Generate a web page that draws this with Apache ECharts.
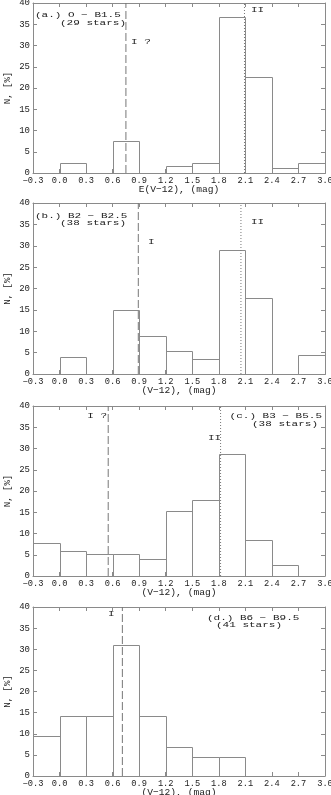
<!DOCTYPE html>
<html><head><meta charset="utf-8">
<script src="https://cdn.jsdelivr.net/npm/echarts@6/dist/echarts.min.js"></script>
<style>html,body{margin:0;padding:0;background:#fff}#c{width:331px;height:795px}</style>
</head><body><div id="c"></div>
<script>
// bin edges (V-12) in mag
var binEdges = [-0.3, 0.0, 0.3, 0.6, 0.9, 1.2, 1.5, 1.8, 2.1, 2.4, 2.7, 3.0];
var xTicks = [-0.3, 0.0, 0.3, 0.6, 0.9, 1.2, 1.5, 1.8, 2.1, 2.4, 2.7, 3.0];
var yTicks = [0, 5, 10, 15, 20, 25, 30, 35, 40];
// N [%] per bin
var valuesA = [0, 2.3, 0, 7.5, 0, 1.7, 2.3, 36.8, 22.5, 1.2, 2.3];
var valuesB = [0, 4.0, 0, 15.0, 8.8, 5.4, 3.5, 29.0, 17.7, 0, 4.4];
var valuesC = [7.7, 6.0, 5.1, 5.1, 4.0, 15.2, 17.8, 28.6, 8.4, 2.5, 0];
var valuesD = [9.5, 14.2, 14.2, 30.9, 14.2, 6.9, 4.55, 4.55, 0, 0, 0];
// reference lines: [x, style]
var linesA = [[0.75, 'dashed'], [2.09, 'dotted']];
var linesB = [[0.89, 'dashed'], [2.05, 'dotted']];
var linesC = [[0.55, 'dashed'], [1.82, 'dotted']];
var linesD = [[0.71, 'dashed']];
var xTitles = ['E(V\u221212), (mag)', '(V\u221212), (mag)', '(V\u221212), (mag)', '(V\u221212), (mag)'];
var yTitle = 'N, [%]';

var panels = [valuesA, valuesB, valuesC, valuesD];
var panelLines = [linesA, linesB, linesC, linesD];
var gridTops = [3, 203, 406, 607];
var gridH = [170, 171, 170, 169];

var FONT = 'Liberation Mono';
var TXT = '#222';
var AX = '#8a8a8a';

var grids = [], xAxes = [], yAxes = [], series = [];
panels.forEach(function (vals, i) {
  grids.push({left: 33, right: 6, top: gridTops[i], height: gridH[i], containLabel: false, outerBoundsMode: 'none'});
  var xBase = {
    gridIndex: i, type: 'value', min: xTicks[0], max: xTicks[xTicks.length - 1], interval: 0.3,
    splitLine: {show: false},
    axisLine: {show: true, onZero: false, lineStyle: {color: AX, width: 1}},
    axisTick: {show: true, inside: true, length: 4, lineStyle: {color: AX}}
  };
  xAxes.push(Object.assign({}, xBase, {
    position: 'bottom',
    name: xTitles[i], nameLocation: 'middle', nameGap: 11.5, nameMoveOverlap: false,
    nameTextStyle: {fontFamily: FONT, fontSize: 9.6, color: TXT},
    axisLabel: {show: true, margin: 3, fontFamily: FONT, fontSize: 8.7, color: TXT,
      showMinLabel: true, showMaxLabel: true, hideOverlap: false,
      formatter: function (v) { return (Math.round(v * 10) / 10).toFixed(1).replace('-', '\u2212'); }}
  }));
  xAxes.push(Object.assign({}, xBase, {position: 'top', axisLabel: {show: false}}));
  var yBase = {
    gridIndex: i, type: 'value', min: 0, max: 40, interval: 5,
    splitLine: {show: false},
    axisLine: {show: true, onZero: false, lineStyle: {color: AX, width: 1}},
    axisTick: {show: true, inside: true, length: 4, lineStyle: {color: AX}}
  };
  yAxes.push(Object.assign({}, yBase, {
    position: 'left',
    name: yTitle, nameLocation: 'middle', nameGap: 21, nameRotate: 90, nameMoveOverlap: false,
    nameTextStyle: {fontFamily: FONT, fontSize: 9, color: TXT},
    axisLabel: {show: true, margin: 3, fontFamily: FONT, fontSize: 9, color: TXT, showMaxLabel: true, showMinLabel: true}
  }));
  yAxes.push(Object.assign({}, yBase, {position: 'right', axisLabel: {show: false}}));

  var data = vals.map(function (v, k) { return [binEdges[k], binEdges[k + 1], v]; });
  series.push({
    type: 'custom', xAxisIndex: 2 * i, yAxisIndex: 2 * i, data: data, silent: true, clip: false,
    renderItem: function (params, api) {
      var y = api.value(2);
      if (!y) return null;
      var p0 = api.coord([api.value(0), y]);
      var p1 = api.coord([api.value(1), 0]);
      return {type: 'rect',
        shape: {x: Math.round(p0[0]) + 0.5, y: Math.round(p0[1]) + 0.5,
          width: Math.round(p1[0]) - Math.round(p0[0]), height: Math.round(p1[1]) - Math.round(p0[1])},
        style: {fill: 'none', stroke: '#8a8a8a', lineWidth: 1}};
    }
  });
  panelLines[i].forEach(function (ln) {
    series.push({
      type: 'line', xAxisIndex: 2 * i, yAxisIndex: 2 * i, silent: true,
      data: [[ln[0], 0], [ln[0], 40]], symbol: 'none',
      lineStyle: {color: '#777', width: 1, type: ln[1] === 'dashed' ? [8, 3] : [1, 2]}
    });
  });
});

function t(x, y, s, align) {
  return {type: 'text', x: x, y: y, scaleY: 0.72, style: {text: s, fontFamily: FONT, fontSize: 11, fill: TXT,
    textAlign: align || 'left', textVerticalAlign: 'middle'}};
}
var graphics = [
  t(35, 15, '(a.) O \u2212 B1.5'), t(60, 23, '(29 stars)'), t(131, 42, 'I ?'), t(251, 10, 'II'),
  t(35, 216, '(b.) B2 \u2212 B2.5'), t(60, 223, '(38 stars)'), t(148, 242, 'I'), t(251, 222, 'II'),
  t(322, 416, '(c.) B3 \u2212 B5.5', 'right'), t(318, 424, '(38 stars)', 'right'), t(107, 416, 'I ?', 'right'), t(208, 438, 'II'),
  t(207, 618, '(d.) B6 \u2212 B9.5'), t(216, 625, '(41 stars)'), t(108, 614, 'I')
];

var chart = echarts.init(document.getElementById('c'), null, {renderer: 'canvas'});
chart.setOption({
  animation: false,
  backgroundColor: '#fff',
  grid: grids, xAxis: xAxes, yAxis: yAxes, series: series,
  graphic: graphics
});
</script></body></html>
